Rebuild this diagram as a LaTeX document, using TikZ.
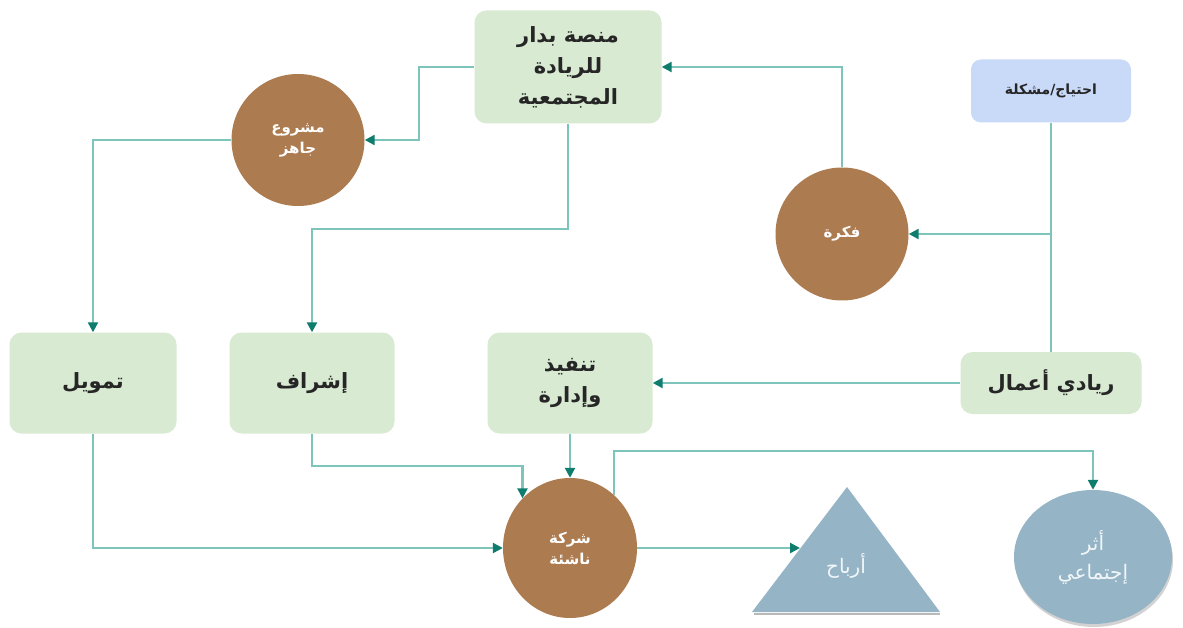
\documentclass[tikz,border=0pt]{standalone}
\usepackage{fontspec}
\TeXXeTstate=1
\newfontfamily\arabicfont[Script=Arabic]{DejaVu Sans}
\usetikzlibrary{arrows.meta,shapes.geometric,shadows}
\definecolor{boxgreen}{RGB}{217,234,211}
\definecolor{boxblue}{RGB}{201,218,248}
\definecolor{nodebrown}{RGB}{173,123,80}
\definecolor{steel}{RGB}{149,181,199}
\definecolor{linecol}{RGB}{125,196,187}
\definecolor{tipcol}{RGB}{15,125,110}
\tikzset{
  greenbox/.style={rounded corners=12pt, fill=boxgreen, align=center, inner sep=0pt,
    font=\arabicfont\bfseries\fontsize{21}{31}\selectfont, text=black!85},
  bluebox/.style={rounded corners=10pt, fill=boxblue, align=center, inner sep=0pt,
    font=\arabicfont\bfseries\fontsize{14}{18}\selectfont, text=black!85},
  browncirc/.style={ellipse, fill=nodebrown, align=center, inner sep=0pt,
    font=\arabicfont\bfseries\fontsize{15}{21}\selectfont, text=white},
  steeltext/.style={align=center, font=\arabicfont\fontsize{20}{29}\selectfont, text=white!88!steel},
  plainline/.style={draw=linecol, line width=2.3pt},
  conn/.style={plainline, -{Triangle[length=10pt,width=10pt,color=tipcol]}}
}
\begin{document}
\begin{tikzpicture}[x=1pt,y=-1pt]
\fill[white] (0,0) rectangle (1183,628);
\useasboundingbox (0,0) rectangle (1183,628);

% nodes
\node[greenbox, minimum width=187, minimum height=113] (platform) at (568,67)
  {\beginR منصة بدار\endR\\\beginR للريادة\endR\\\beginR المجتمعية\endR};
\node[bluebox, minimum width=160, minimum height=63] (need) at (1051,91)
  {\beginR احتياج/مشكلة\endR};
\node[browncirc, minimum width=133, minimum height=132] (ready) at (298,140)
  {\beginR مشروع\endR\\\beginR جاهز\endR};
\node[browncirc, minimum width=133, minimum height=133] (idea) at (842,234)
  {\beginR فكرة\endR};
\node[greenbox, minimum width=167, minimum height=101] (fund) at (93,383)
  {\beginR تمويل\endR};
\node[greenbox, minimum width=165, minimum height=101] (super) at (312,383)
  {\beginR إشراف\endR};
\node[greenbox, minimum width=165, minimum height=101] (exec) at (570,383)
  {\beginR تنفيذ\endR\\\beginR وإدارة\endR};
\node[greenbox, minimum width=181, minimum height=62] (entre) at (1051,383)
  {\beginR ريادي أعمال\endR};
\node[browncirc, minimum width=134, minimum height=140] (startup) at (570,548)
  {\beginR شركة\endR\\\beginR ناشئة\endR};

% profit triangle
\draw[gray!55, line width=2pt] (754,614) -- (940,614);
\fill[steel] (752,612) -- (847,487) -- (940,612) -- cycle;
\coordinate (profitedge) at (800,548);
\node[steeltext] (profit) at (846,566) {\beginR أرباح\endR};

% social impact
\node[ellipse, fill=steel, minimum width=158, minimum height=134, inner sep=0pt,
  drop shadow={opacity=0.35, shadow xshift=1pt, shadow yshift=-3pt},
  steeltext] (impact) at (1093,557) {\beginR أثر\endR\\\beginR إجتماعي\endR};

% connectors
\coordinate (toplane) at (0,451);
\draw[conn] (idea.north) |- (platform.east);
\draw[plainline] (need.south) -- (entre.north);
\draw[conn] (need.south |- idea.east) -- (idea.east);
\draw[conn] (platform.west) -- ++(-55,0) |- (ready.east);
\draw[conn] (ready.west) -| (fund.north);
\draw[conn] (platform.south) -- ++(0,105) -| (super.north);
\draw[conn] (entre.west) -- (exec.east);
\draw[conn] (exec.south) -- (startup.north);
\draw[conn] (super.south) -- ++(0,32) -| (startup.north west);
\draw[conn] (fund.south) |- (startup.west);
\draw[conn] (startup.east) -- (profitedge);
\draw[conn] (startup.50) -- (startup.50 |- toplane) -| (impact.north);
\end{tikzpicture}
\end{document}
